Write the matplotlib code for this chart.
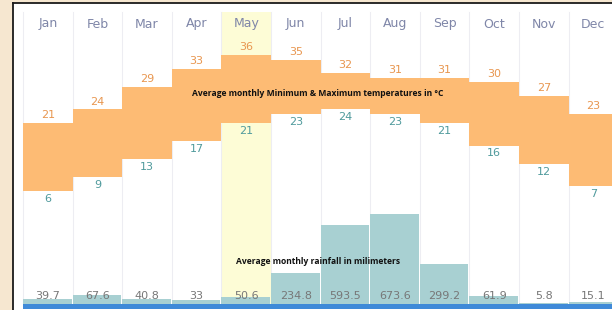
import matplotlib

matplotlib.use("Agg")
import matplotlib.pyplot as plt
from matplotlib.patches import Rectangle

# data
months = ["Jan", "Feb", "Mar", "Apr", "May", "Jun", "Jul", "Aug", "Sep", "Oct", "Nov", "Dec"]
t_max = [21, 24, 29, 33, 36, 35, 32, 31, 31, 30, 27, 23]
t_min = [6, 9, 13, 17, 21, 23, 24, 23, 21, 16, 12, 7]
rain = [39.7, 67.6, 40.8, 33, 50.6, 234.8, 593.5, 673.6, 299.2, 61.9, 5.8, 15.1]
rain_labels = ["39.7", "67.6", "40.8", "33", "50.6", "234.8", "593.5", "673.6", "299.2", "61.9", "5.8", "15.1"]
highlight = "May"

W, H = 612, 310
ORANGE = "#fdbb74"
TEAL = "#a8d0d2"
MAX_C = "#e8964f"
MIN_C = "#4f9a9c"
MONTH_C = "#7f86a8"

fig = plt.figure(figsize=(W / 100, H / 100), dpi=100)
fig.patch.set_facecolor("#f6e7d0")

# white panel with dark frame (left + top edges)
fig.add_artist(Rectangle((13 / W, 0), 1, (H - 3) / H, transform=fig.transFigure,
                         facecolor="white", edgecolor="none", zorder=0))
fig.add_artist(plt.Line2D([13 / W, 13 / W], [0, (H - 3) / H], transform=fig.transFigure,
                          color="#1a1a1a", lw=1.3, zorder=5))
fig.add_artist(plt.Line2D([13 / W, 1], [(H - 3) / H, (H - 3) / H], transform=fig.transFigure,
                          color="#1a1a1a", lw=1.3, zorder=5))

col_w = 49.6
x0 = -23 / col_w
x1 = (W - 23) / col_w

# temperature axes: 21 C at y=123px, 4.533 px per degree
px_per_deg = 4.533
t_top = 21 + 123 / px_per_deg
t_bot = 21 - (H - 123) / px_per_deg
ax_t = fig.add_axes([0, 0, 1, 1])
ax_t.set_xlim(x0, x1)
ax_t.set_ylim(t_bot, t_top)
ax_t.axis("off")
ax_t.patch.set_alpha(0)

# rainfall axes: baseline y=304px, 0.1336 px per mm
px_per_mm = 0.1336
ax_r = fig.add_axes([0, 0, 1, 1])
ax_r.set_xlim(x0, x1)
ax_r.set_ylim(-(H - 304) / px_per_mm, 304 / px_per_mm)
ax_r.axis("off")
ax_r.patch.set_alpha(0)

col_top_t = t_top - 12 / px_per_deg
col_bot_t = t_top - 304 / px_per_deg

for i, m in enumerate(months):
    if m == highlight:
        ax_t.bar(i, col_top_t - col_bot_t, bottom=col_bot_t, width=1, align="edge",
                 color="#fdfcd6", zorder=0)
    ax_t.plot([i, i], [col_bot_t, col_top_t], color="#ededf2", lw=0.8, zorder=0.5)
    ax_t.text(i + 0.5, t_top - 24 / px_per_deg, m, ha="center", va="center",
              fontsize=9, color=MONTH_C)

ax_t.bar(range(12), [a - b for a, b in zip(t_max, t_min)], bottom=t_min, width=1,
         align="edge", color=ORANGE, zorder=2)
for i in range(12):
    ax_t.annotate(str(t_max[i]), (i + 0.5, t_max[i]), xytext=(0, 2), textcoords="offset points",
                  ha="center", va="bottom", fontsize=8, color=MAX_C, zorder=4)
    ax_t.annotate(str(t_min[i]), (i + 0.5, t_min[i]), xytext=(0, -2), textcoords="offset points",
                  ha="center", va="top", fontsize=8, color=MIN_C, zorder=4)

ax_r.bar(range(12), rain, width=0.98, align="edge", color=TEAL, zorder=2)
for i in range(12):
    ax_r.text(i + 0.5, 8 / px_per_mm, rain_labels[i], ha="center", va="center",
              fontsize=8, color="#777777", zorder=4)

# blue strip along the bottom
ax_r.bar(0, -(H - 305) / px_per_mm, width=x1, align="edge", color="#3f8ad8", zorder=3)

ax_t.text(5.95, t_top - 93 / px_per_deg, "Average monthly Minimum & Maximum temperatures in °C",
          ha="center", va="center", fontsize=6.1, fontweight="bold", family="Open Sans",
          color="#111111", zorder=5)
ax_r.text(5.95, (304 - 261) / px_per_mm, "Average monthly rainfall in milimeters",
          ha="center", va="center", fontsize=6.1, fontweight="bold", family="Open Sans",
          color="#111111", zorder=5)

fig.savefig("out.png", dpi=100)
